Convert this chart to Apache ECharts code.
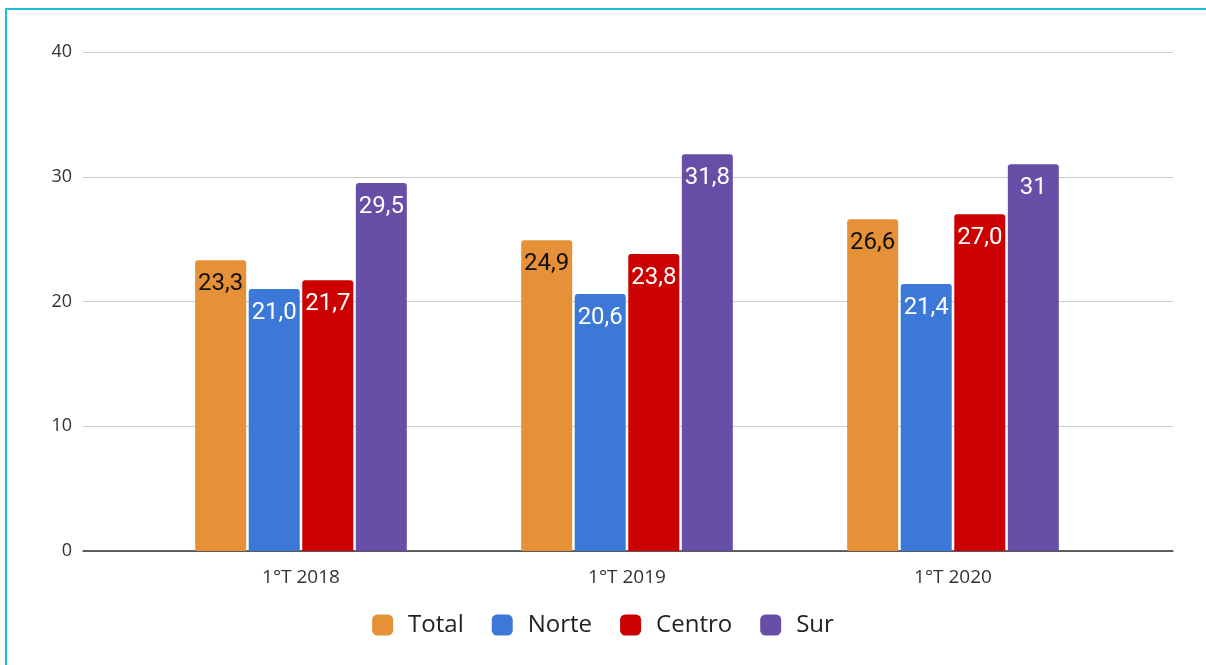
<!DOCTYPE html>
<html>
<head>
<meta charset="utf-8">
<script src="https://cdn.jsdelivr.net/npm/echarts@6/dist/echarts.min.js"></script>
<style>
  html, body { margin: 0; padding: 0; background: #fff; }
  #chart { width: 1206px; height: 665px; }
</style>
</head>
<body>
<div id="chart"></div>
<script>
// categorías y valores
const categories = ['1°T 2018', '1°T 2019', '1°T 2020'];
const totalData = [23.3, 24.9, 26.6];
const norteData = [21.0, 20.6, 21.4];
const centroData = [21.7, 23.8, 27.0];
const surData = [29.5, 31.8, 31];
// etiquetas tal como aparecen en las barras
const totalLabels = ['23,3', '24,9', '26,6'];
const norteLabels = ['21,0', '20,6', '21,4'];
const centroLabels = ['21,7', '23,8', '27,0'];
const surLabels = ['29,5', '31,8', '31'];
const yTicks = [0, 10, 20, 30, 40];

window.onload = function () {
  const myChart = echarts.init(document.getElementById('chart'));

  function makeSeries(name, data, labels, color, labelColor) {
    return {
      name: name,
      type: 'bar',
      xAxisIndex: 1,
      yAxisIndex: 1,
      data: data,
      barWidth: 51,
      barGap: '5%',
      itemStyle: { color: color, borderRadius: [3, 3, 0, 0] },
      label: {
        show: true,
        position: 'insideTop',
        distance: 12,
        fontFamily: 'Roboto',
        fontSize: 24,
        color: labelColor,
        formatter: (p) => labels[p.dataIndex]
      }
    };
  }

  const option = {
    animation: false,
    textStyle: { fontFamily: 'Open Sans' },
    graphic: [
      { type: 'rect', shape: { x: 5, y: 8, width: 2, height: 660 }, style: { fill: '#1fbfd4' } },
      { type: 'rect', shape: { x: 5, y: 8, width: 1210, height: 2 }, style: { fill: '#1fbfd4' } }
    ],
    grid: [
      // rejilla ancha: líneas guía y eje Y
      { left: 83, right: 33, top: 52, bottom: 114 },
      // rejilla de las barras
      { left: 138, right: 90, top: 52, bottom: 114 }
    ],
    legend: {
      bottom: 23,
      left: 'center',
      itemWidth: 21,
      itemHeight: 21,
      itemGap: 28,
      icon: 'roundRect',
      textStyle: { fontSize: 24, color: '#222', fontFamily: 'Open Sans', padding: [0, 0, 0, 10] },
      data: ['Total', 'Norte', 'Centro', 'Sur']
    },
    xAxis: [
      {
        gridIndex: 0,
        type: 'value',
        min: 0,
        max: 1,
        axisLine: { show: true, onZero: false, lineStyle: { color: '#333', width: 1.5 } },
        axisTick: { show: false },
        axisLabel: { show: false },
        splitLine: { show: false }
      },
      {
        gridIndex: 1,
        type: 'category',
        data: categories,
        axisLine: { show: false },
        axisTick: { show: false },
        axisLabel: { fontSize: 19, color: '#333', margin: 17, fontFamily: 'Open Sans' }
      }
    ],
    yAxis: [
      {
        gridIndex: 0,
        type: 'value',
        min: yTicks[0],
        max: yTicks[yTicks.length - 1],
        interval: 10,
        axisLine: { show: false },
        axisTick: { show: false },
        axisLabel: { fontSize: 18, color: '#333', margin: 11, fontFamily: 'Open Sans' },
        splitLine: { lineStyle: { color: '#ccc', width: 1.2 } }
      },
      {
        gridIndex: 1,
        type: 'value',
        min: 0,
        max: 40,
        show: false,
        splitLine: { show: false }
      }
    ],
    series: [
      makeSeries('Total', totalData, totalLabels, '#e69138', '#111'),
      makeSeries('Norte', norteData, norteLabels, '#3c78d8', '#fff'),
      makeSeries('Centro', centroData, centroLabels, '#cc0000', '#fff'),
      makeSeries('Sur', surData, surLabels, '#674ea7', '#fff')
    ]
  };
  myChart.setOption(option);
};
</script>
</body>
</html>
